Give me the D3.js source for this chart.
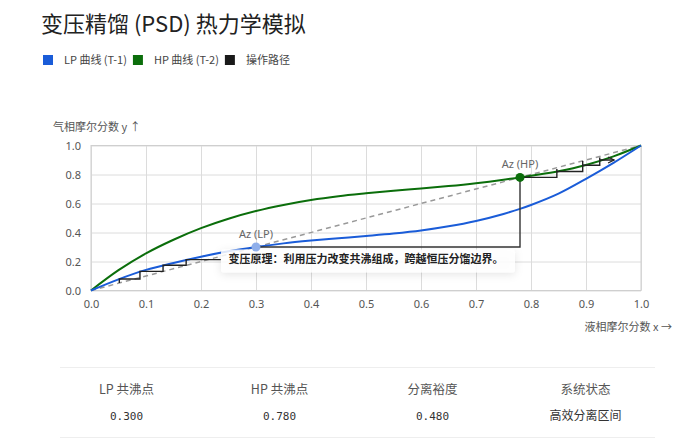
<!DOCTYPE html>
<html>
<head>
<meta charset="utf-8">
<script src="https://cdn.jsdelivr.net/npm/d3@7"></script>
<style>
  html, body { margin: 0; padding: 0; background: #ffffff; }
  svg { display: block; font-family: "Noto Sans", "Noto Sans CJK SC", sans-serif; }
</style>
</head>
<body>
<svg id="chart" width="700" height="441"></svg>
<script>
// ---- data ----
const xGrid = [0, 0.05, 0.1, 0.15, 0.2, 0.25, 0.3, 0.35, 0.4, 0.45, 0.5, 0.55, 0.6, 0.65, 0.7, 0.75, 0.78, 0.8, 0.85, 0.9, 0.95, 1.0];
const lpY   = [0, 0.077, 0.142, 0.19, 0.233, 0.27, 0.30, 0.325, 0.344, 0.36, 0.376, 0.393, 0.414, 0.443, 0.48, 0.528, 0.563, 0.59, 0.668, 0.77, 0.88, 1.0];
const hpY   = [0, 0.14, 0.256, 0.35, 0.43, 0.495, 0.548, 0.59, 0.624, 0.65, 0.67, 0.688, 0.703, 0.72, 0.74, 0.764, 0.78, 0.792, 0.823, 0.866, 0.925, 1.0];
const diagonal = [[0, 0], [1, 1]];
const lpStairX = [0.0515, 0.0515, 0.089, 0.089, 0.131, 0.131, 0.173, 0.173, 0.236];
const lpStairY = [0.0515, 0.079, 0.079, 0.132, 0.132, 0.174, 0.174, 0.213, 0.213];
const hpStairX = [0.786, 0.847, 0.847, 0.847, 0.894, 0.894, 0.894, 0.925, 0.925, 0.925, 0.951];
const hpStairY = [0.78, 0.78, 0.838, 0.821, 0.821, 0.893, 0.864, 0.864, 0.918, 0.9, 0.9];
const linkX = [0.30, 0.78, 0.78];
const linkY = [0.30, 0.30, 0.78];
const azLP = { x: 0.30, y: 0.30, label: "Az (LP)" };
const azHP = { x: 0.78, y: 0.78, label: "Az (HP)" };
const xTicks = [0, 0.1, 0.2, 0.3, 0.4, 0.5, 0.6, 0.7, 0.8, 0.9, 1.0];
const yTicks = [0, 0.2, 0.4, 0.6, 0.8, 1.0];
const legendNames = ["LP 曲线 (T-1)", "HP 曲线 (T-2)", "操作路径"];
const legendColors = ["#1a5cd8", "#0b6e0b", "#1a1a1a"];
const statLabels = ["LP 共沸点", "HP 共沸点", "分离裕度", "系统状态"];
const statValues = ["0.300", "0.780", "0.480", "高效分离区间"];
const titleText = "变压精馏 (PSD) 热力学模拟";
const noteText = "变压原理：利用压力改变共沸组成，跨越恒压分馏边界。";
const yAxisTitle = "气相摩尔分数 y ↑";
const xAxisTitle = "液相摩尔分数 x →";

// ---- layout ----
const svg = d3.select("#chart");
const L = 91, R = 641, T = 145.5, B = 290.5;
const x = d3.scaleLinear().domain([0, 1]).range([L, R]);
const y = d3.scaleLinear().domain([0, 1]).range([B, T]);
const cjk = '"Noto Sans CJK SC", "Noto Sans", sans-serif';

const defs = svg.append("defs");
const f = defs.append("filter").attr("id", "shadow").attr("x", "-20%").attr("y", "-80%").attr("width", "140%").attr("height", "260%");
f.append("feDropShadow").attr("dx", 0).attr("dy", 2).attr("stdDeviation", 4).attr("flood-color", "#000").attr("flood-opacity", 0.12);
defs.append("marker").attr("id", "arrow").attr("viewBox", "0 0 8 8").attr("refX", 7).attr("refY", 4)
  .attr("markerWidth", 8).attr("markerHeight", 8).attr("markerUnits", "userSpaceOnUse").attr("orient", "auto")
  .append("path").attr("d", "M1,1 L7,4 L1,7").attr("fill", "none").attr("stroke", "#222").attr("stroke-width", 1.3);

// title
svg.append("text").attr("x", 41).attr("y", 32).attr("font-family", cjk).attr("font-size", 22)
  .attr("fill", "#222").text(titleText);

// legend
let lx = 43;
legendNames.forEach((n, i) => {
  svg.append("rect").attr("x", lx).attr("y", 55).attr("width", 10).attr("height", 10).attr("fill", legendColors[i]);
  const t = svg.append("text").attr("x", lx + 21).attr("y", 64).attr("font-family", cjk).attr("font-size", 11)
    .attr("fill", "#444").text(n);
  lx += 21 + t.node().getComputedTextLength() + 6;
});

// grid + axes
const gx = svg.append("g").attr("transform", `translate(0,${B})`)
  .call(d3.axisBottom(x).tickValues(xTicks).tickSize(-(B - T)).tickPadding(10).tickFormat(d3.format(".1f")));
gx.select(".domain").remove();
gx.selectAll("line").attr("stroke", "#dcdcdc");
gx.selectAll("text").attr("font-size", 11).attr("fill", "#555").attr("font-family", '"Noto Sans", sans-serif');

const gy = svg.append("g").attr("transform", `translate(${L},0)`)
  .call(d3.axisLeft(y).tickValues(yTicks).tickSize(-(R - L)).tickPadding(10).tickFormat(d3.format(".1f")));
gy.select(".domain").remove();
gy.selectAll("line").attr("stroke", "#dcdcdc");
gy.selectAll("text").attr("font-size", 11).attr("fill", "#555").attr("font-family", '"Noto Sans", sans-serif');

svg.append("rect").attr("x", L).attr("y", T).attr("width", R - L).attr("height", B - T)
  .attr("fill", "none").attr("stroke", "#cfcfcf");

// axis titles
svg.append("text").attr("x", 53).attr("y", 131).attr("font-family", cjk).attr("font-size", 11)
  .attr("fill", "#555").text(yAxisTitle);
svg.append("text").attr("x", 672).attr("y", 331).attr("text-anchor", "end").attr("font-family", cjk)
  .attr("font-size", 11).attr("fill", "#555").text(xAxisTitle);

// diagonal
const line = d3.line().x(d => x(d[0])).y(d => y(d[1]));
svg.append("path").attr("d", line(diagonal)).attr("fill", "none").attr("stroke", "#999")
  .attr("stroke-width", 1.5).attr("stroke-dasharray", "5,4");

// curves
const curveLine = d3.line().x(d => x(d[0])).y(d => y(d[1])).curve(d3.curveMonotoneX);
svg.append("path").attr("d", curveLine(xGrid.map((v, i) => [v, hpY[i]])))
  .attr("fill", "none").attr("stroke", legendColors[1]).attr("stroke-width", 2);
svg.append("path").attr("d", curveLine(xGrid.map((v, i) => [v, lpY[i]])))
  .attr("fill", "none").attr("stroke", legendColors[0]).attr("stroke-width", 2);

// staircases
svg.append("path").attr("d", line(lpStairX.map((v, i) => [v, lpStairY[i]])))
  .attr("fill", "none").attr("stroke", "#222").attr("stroke-width", 1.4);
svg.append("path").attr("d", line(hpStairX.map((v, i) => [v, hpStairY[i]])))
  .attr("fill", "none").attr("stroke", "#222").attr("stroke-width", 1.4).attr("marker-end", "url(#arrow)");

// note box
svg.append("rect").attr("x", 221).attr("y", 249.5).attr("width", 294).attr("height", 23).attr("rx", 3)
  .attr("fill", "#ffffff").attr("fill-opacity", 0.85).attr("filter", "url(#shadow)");
svg.append("text").attr("x", 228.5).attr("y", 262.5).attr("font-family", cjk).attr("font-size", 11)
  .attr("font-weight", 600).attr("fill", "#222").text(noteText);

// link line
svg.append("path").attr("d", line(linkX.map((v, i) => [v, linkY[i]])))
  .attr("fill", "none").attr("stroke", "#333").attr("stroke-width", 1.4);

// azeotrope points
svg.append("circle").attr("cx", x(azLP.x)).attr("cy", y(azLP.y)).attr("r", 4.5).attr("fill", "#8eaeea");
svg.append("circle").attr("cx", x(azHP.x)).attr("cy", y(azHP.y)).attr("r", 4.5).attr("fill", "#0b6e0b");
[azLP, azHP].forEach(a => {
  svg.append("text").attr("x", x(a.x)).attr("y", y(a.y) - 9).attr("text-anchor", "middle")
    .attr("font-size", 11).attr("fill", "#666").attr("font-family", '"Noto Sans", sans-serif').text(a.label);
});

// stats panel
svg.append("line").attr("x1", 60).attr("x2", 655).attr("y1", 367.5).attr("y2", 367.5).attr("stroke", "#eeeeee");
svg.append("line").attr("x1", 60).attr("x2", 655).attr("y1", 437.5).attr("y2", 437.5).attr("stroke", "#eeeeee");
const colX = d3.scaleBand().domain(statLabels).range([50, 662]);
statLabels.forEach((s, i) => {
  const cx = colX(s) + colX.bandwidth() / 2;
  svg.append("text").attr("x", cx).attr("y", 394).attr("text-anchor", "middle").attr("font-family", cjk)
    .attr("font-size", 12.5).attr("fill", "#555").text(s);
  const isNum = !isNaN(+statValues[i]);
  svg.append("text").attr("x", cx).attr("y", 419.5).attr("text-anchor", "middle")
    .attr("font-family", isNum ? '"DejaVu Sans Mono", monospace' : cjk)
    .attr("font-size", isNum ? 11 : 12).attr("fill", "#333").text(statValues[i]);
});
</script>
</body>
</html>
